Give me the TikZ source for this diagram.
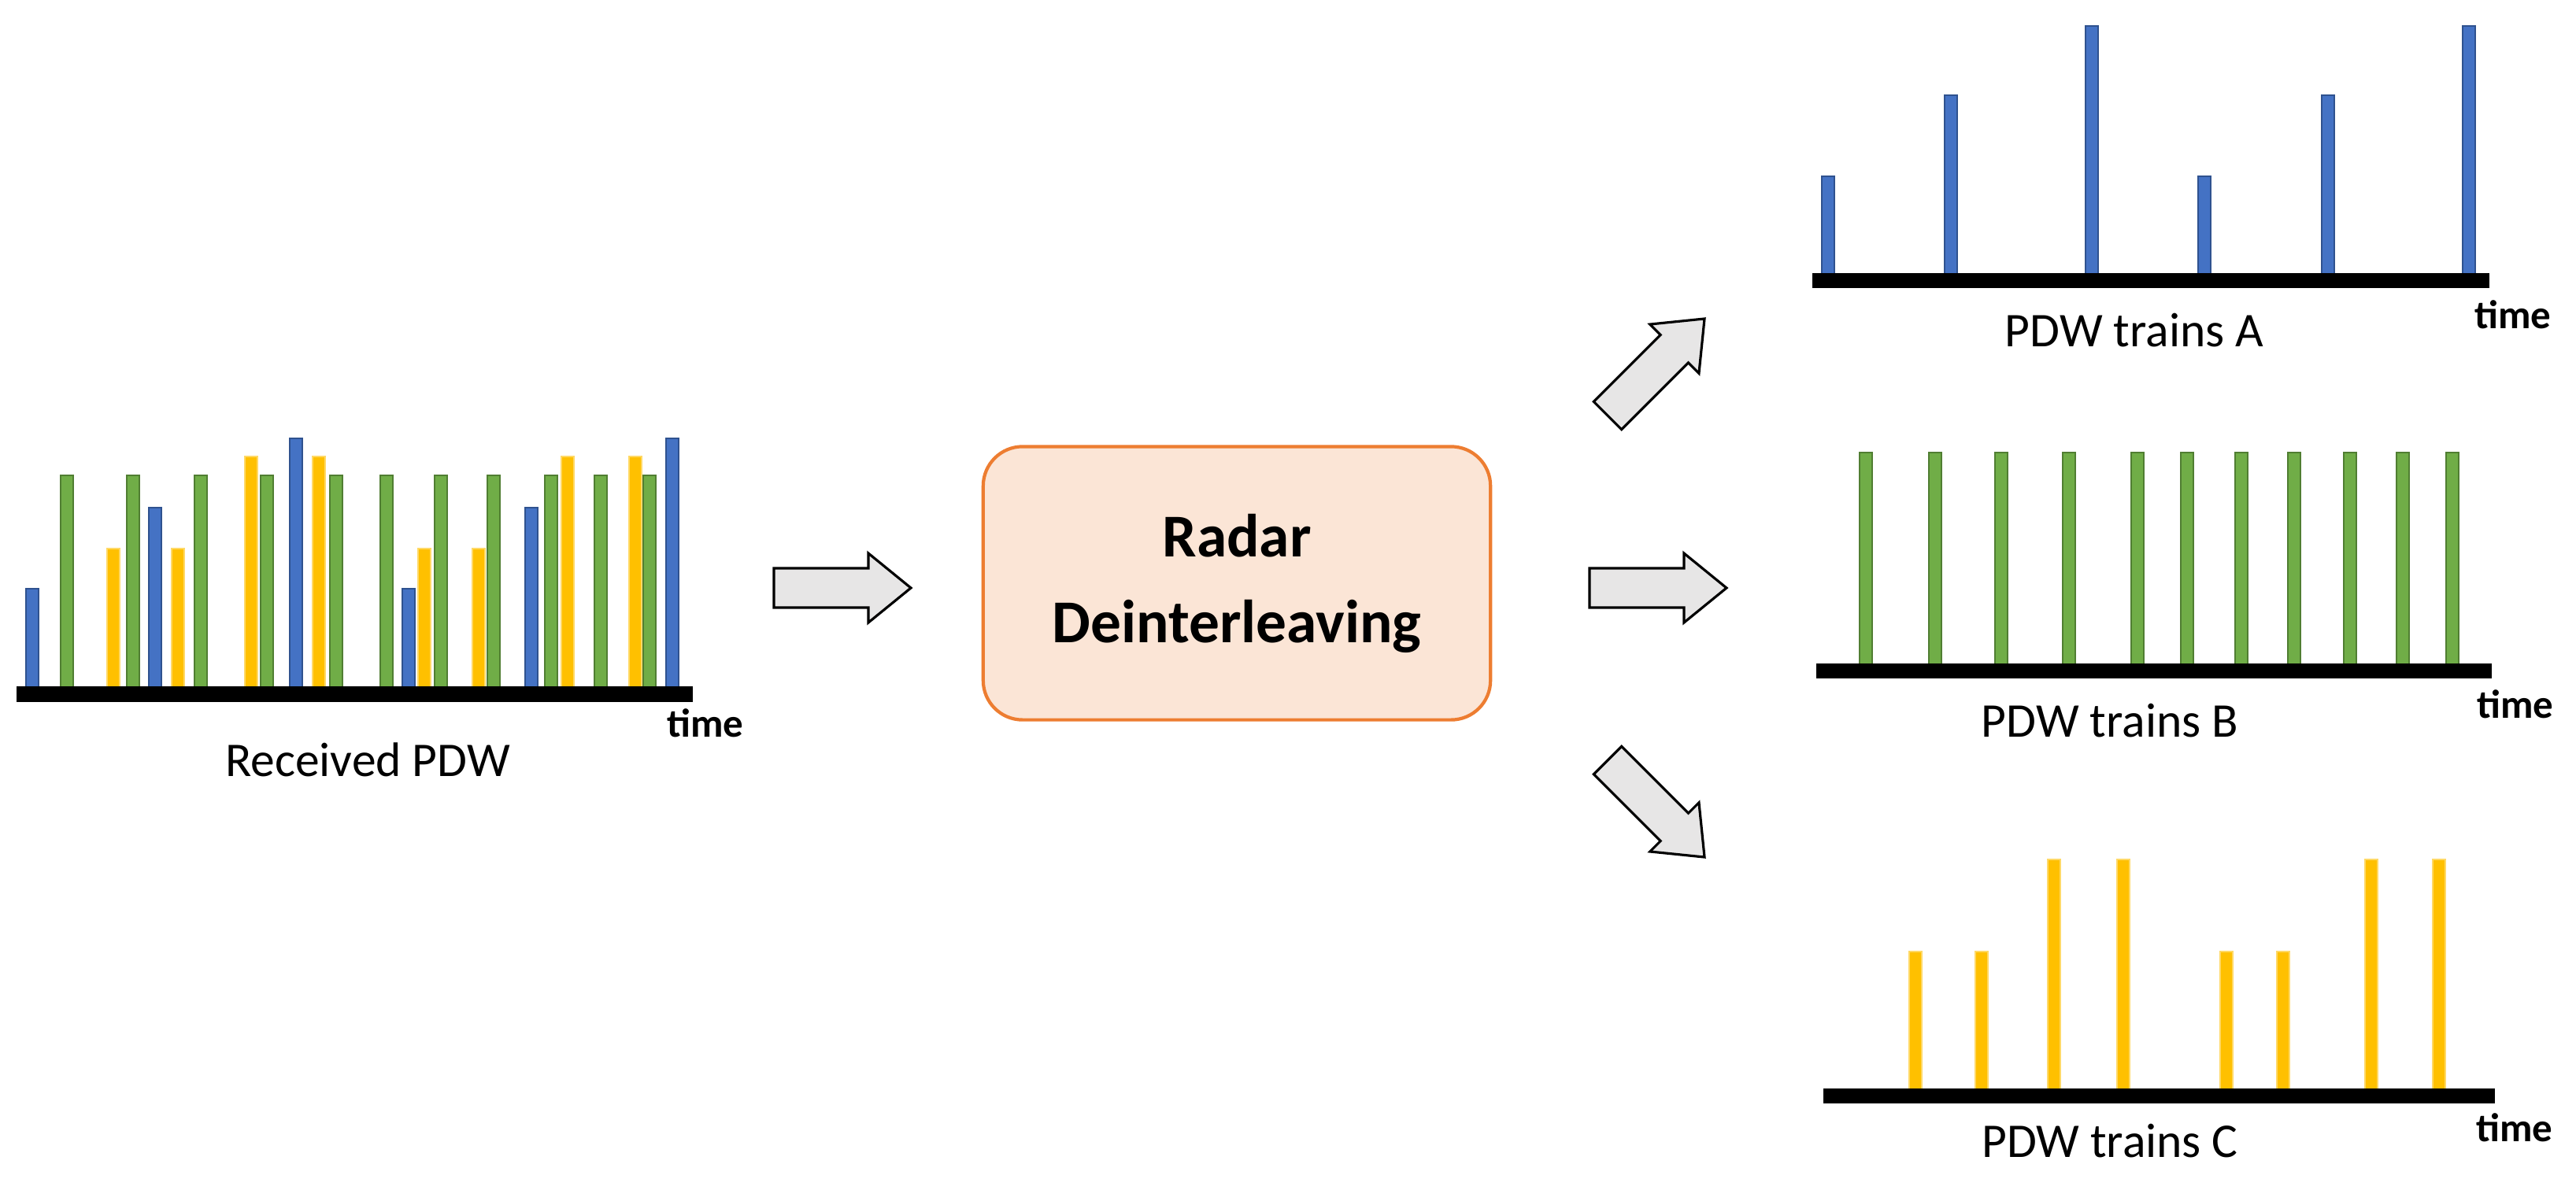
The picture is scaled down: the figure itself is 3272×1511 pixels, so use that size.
\documentclass[tikz,border=0pt]{standalone}
\usepackage{fontspec}
\setmainfont{Carlito}
\begin{document}
\begin{tikzpicture}[x=0.01cm,y=-0.01cm,
  bl/.style={fill={rgb,255:red,68;green,114;blue,196},draw={rgb,255:red,47;green,82;blue,143},line width=0.8pt},
  gr/.style={fill={rgb,255:red,112;green,173;blue,71},draw={rgb,255:red,80;green,126;blue,50},line width=0.8pt},
  ye/.style={fill={rgb,255:red,255;green,192;blue,0},draw={rgb,255:red,255;green,217;blue,102},line width=0.8pt},
  axis/.style={fill=black,draw=none},
  tlab/.style={font=\bfseries\fontsize{14.5}{16}\selectfont,inner sep=0pt},
  capt/.style={font=\fontsize{17.5}{20}\selectfont,inner sep=0pt},
  blk/.style={fill={rgb,255:red,231;green,230;blue,230},draw=black,line width=0.9pt,line join=miter}]
\useasboundingbox (0,0) rectangle (3272,1511);
\newcommand{\pbar}[4]{\path[#4] (#1-8,#2) rectangle (#1+8,#3);}
\newcommand{\blkarrow}[3]{\begin{scope}[shift={(#1,#2)},rotate=#3]
  \draw[blk] (0,-25) -- (120,-25) -- (120,-44) -- (174,0) -- (120,44) -- (120,25) -- (0,25) -- cycle;
\end{scope}}
% left panel
\foreach \x/\t/\s in {41/748/bl,85/604/gr,144/697/ye,169/604/gr,197/645/bl,226/697/ye,255/604/gr,
  319/580/ye,339/604/gr,376/557/bl,405/580/ye,427/604/gr,491/604/gr,519/748/bl,539/697/ye,560/604/gr,
  608/697/ye,627/604/gr,675/645/bl,700/604/gr,721/580/ye,763/604/gr,807/580/ye,825/604/gr,854/557/bl}
  {\pbar{\x}{\t}{873}{\s}}
\path[axis] (21,872) rectangle (880,892);
\node[tlab] (t0) at (896,919) {time};
\node[capt] (c0) at (467,965) {Received PDW};
% center
\node[draw={rgb,255:red,237;green,125;blue,49},line width=1.2pt,fill={rgb,255:red,251;green,229;blue,214},
  rounded corners=0.5cm,minimum width=6.44cm,minimum height=3.47cm,align=center,
  font=\bfseries\fontsize{22}{31}\selectfont] (box) at (1571,741) {Radar\\Deinterleaving};
% arrows
\blkarrow{983}{747}{0}
\blkarrow{2019}{747}{0}
\blkarrow{2042}{528}{45}
\blkarrow{2042}{966}{-45}
% panel A
\foreach \x/\t in {2322/224,2478/121,2657/33,2800/224,2957/121,3136/33}{\pbar{\x}{\t}{348}{bl}}
\path[axis] (2302,347) rectangle (3162,366);
\node[tlab] (t1) at (3192,400) {time};
\node[capt] (c1) at (2711,420) {PDW trains A};
% panel B
\foreach \x in {2370,2458,2542,2628,2715,2778,2847,2914,2985,3052,3115}{\pbar{\x}{575}{844}{gr}}
\path[axis] (2307,843) rectangle (3165,862);
\node[tlab] (t2) at (3195,895) {time};
\node[capt] (c2) at (2680,916) {PDW trains B};
% panel C
\foreach \x/\t in {2433/1209,2517/1209,2609/1092,2697/1092,2828/1209,2900/1209,3012/1092,3098/1092}{\pbar{\x}{\t}{1384}{ye}}
\path[axis] (2316,1383) rectangle (3169,1402);
\node[tlab] (t3) at (3194,1433) {time};
\node[capt] (c3) at (2680,1450) {PDW trains C};
\end{tikzpicture}
\end{document}
